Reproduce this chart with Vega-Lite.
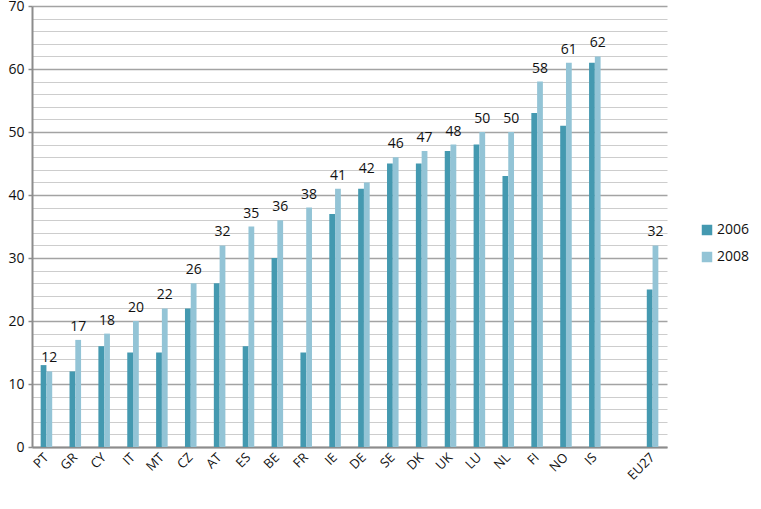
{
  "$schema": "https://vega.github.io/schema/vega-lite/v6.json",
  "width": 635,
  "height": 441,
  "autosize": {"type": "none"},
  "padding": {"left": 32, "top": 6, "right": 94, "bottom": 62},
  "config": {
    "font": "Open Sans",
    "view": {"stroke": null},
    "axis": {"labelFont": "Open Sans", "labelColor": "#111111"}
  },
  "data": {
    "values": [
      {"country": "PT", "year": "2006", "value": 13}, {"country": "PT", "year": "2008", "value": 12},
      {"country": "GR", "year": "2006", "value": 12}, {"country": "GR", "year": "2008", "value": 17},
      {"country": "CY", "year": "2006", "value": 16}, {"country": "CY", "year": "2008", "value": 18},
      {"country": "IT", "year": "2006", "value": 15}, {"country": "IT", "year": "2008", "value": 20},
      {"country": "MT", "year": "2006", "value": 15}, {"country": "MT", "year": "2008", "value": 22},
      {"country": "CZ", "year": "2006", "value": 22}, {"country": "CZ", "year": "2008", "value": 26},
      {"country": "AT", "year": "2006", "value": 26}, {"country": "AT", "year": "2008", "value": 32},
      {"country": "ES", "year": "2006", "value": 16}, {"country": "ES", "year": "2008", "value": 35},
      {"country": "BE", "year": "2006", "value": 30}, {"country": "BE", "year": "2008", "value": 36},
      {"country": "FR", "year": "2006", "value": 15}, {"country": "FR", "year": "2008", "value": 38},
      {"country": "IE", "year": "2006", "value": 37}, {"country": "IE", "year": "2008", "value": 41},
      {"country": "DE", "year": "2006", "value": 41}, {"country": "DE", "year": "2008", "value": 42},
      {"country": "SE", "year": "2006", "value": 45}, {"country": "SE", "year": "2008", "value": 46},
      {"country": "DK", "year": "2006", "value": 45}, {"country": "DK", "year": "2008", "value": 47},
      {"country": "UK", "year": "2006", "value": 47}, {"country": "UK", "year": "2008", "value": 48},
      {"country": "LU", "year": "2006", "value": 48}, {"country": "LU", "year": "2008", "value": 50},
      {"country": "NL", "year": "2006", "value": 43}, {"country": "NL", "year": "2008", "value": 50},
      {"country": "FI", "year": "2006", "value": 53}, {"country": "FI", "year": "2008", "value": 58},
      {"country": "NO", "year": "2006", "value": 51}, {"country": "NO", "year": "2008", "value": 61},
      {"country": "IS", "year": "2006", "value": 61}, {"country": "IS", "year": "2008", "value": 62},
      {"country": "EU27", "year": "2006", "value": 25}, {"country": "EU27", "year": "2008", "value": 32}
    ]
  },
  "encoding": {
    "x": {
      "field": "country",
      "type": "nominal",
      "sort": null,
      "scale": {
        "domain": ["PT","GR","CY","IT","MT","CZ","AT","ES","BE","FR","IE","DE","SE","DK","UK","LU","NL","FI","NO","IS"," ","EU27"],
        "paddingInner": 0.6,
        "paddingOuter": 0.3
      },
      "axis": {
        "title": null,
        "labelAngle": -45,
        "labelAlign": "right",
        "labelBaseline": "middle",
        "labelFontSize": 13,
        "labelPadding": 8,
        "ticks": false,
        "domainColor": "#8c8c8c",
        "domainWidth": 2,
        "grid": false
      }
    },
    "xOffset": {"field": "year", "type": "nominal", "scale": {"domain": ["2006", "2008"], "paddingInner": 0}},
    "y": {
      "field": "value",
      "type": "quantitative",
      "scale": {"domain": [0, 70], "nice": false},
      "axis": {
        "title": null,
        "values": [0,2,4,6,8,10,12,14,16,18,20,22,24,26,28,30,32,34,36,38,40,42,44,46,48,50,52,54,56,58,60,62,64,66,68,70],
        "labelExpr": "datum.value % 10 === 0 ? datum.label : ''",
        "labelFontSize": 14,
        "labelPadding": 4,
        "grid": true,
        "gridColor": {"condition": {"test": "datum.value % 10 === 0", "value": "#a3a3a3"}, "value": "#cdcdcd"},
        "gridWidth": {"condition": {"test": "datum.value % 10 === 0", "value": 1.5}, "value": 1.2},
        "tickSize": {"condition": {"test": "datum.value % 10 === 0", "value": 4}, "value": 0},
        "tickColor": "#8c8c8c",
        "tickWidth": 1.5,
        "domainColor": "#8c8c8c",
        "domainWidth": 2
      }
    }
  },
  "layer": [
    {
      "mark": {"type": "bar"},
      "encoding": {
        "color": {
          "field": "year",
          "type": "nominal",
          "scale": {"domain": ["2006", "2008"], "range": ["#4499b0", "#93c4d6"]},
          "legend": {
            "title": null,
            "orient": "none",
            "legendX": 668,
            "legendY": 217,
            "symbolType": "square",
            "symbolSize": 110,
            "symbolStrokeWidth": 0,
            "labelFontSize": 14,
            "labelColor": "#111111",
            "rowPadding": 13,
            "labelOffset": 3
          }
        }
      }
    },
    {
      "transform": [{"filter": "datum.year === '2008'"}],
      "mark": {"type": "text", "baseline": "bottom", "dy": -6, "fontSize": 14, "color": "#111111"},
      "encoding": {"text": {"field": "value", "type": "quantitative"}}
    }
  ]
}
